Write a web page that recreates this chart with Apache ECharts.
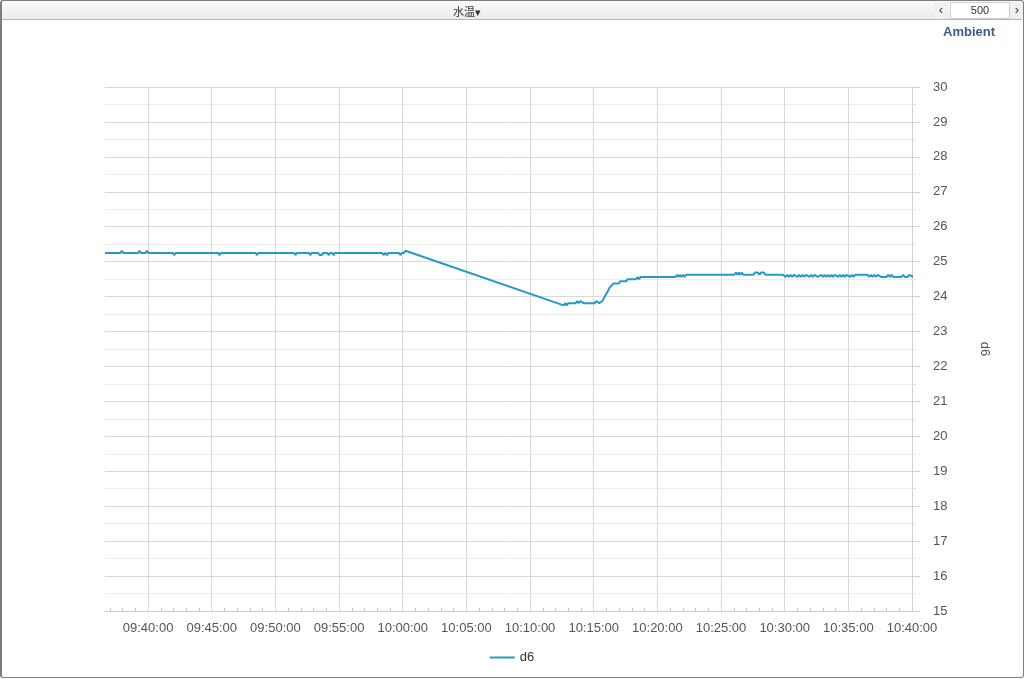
<!DOCTYPE html>
<html><head><meta charset="utf-8">
<script src="https://cdn.jsdelivr.net/npm/echarts@6/dist/echarts.min.js"></script>
<style>
html,body{margin:0;padding:0;width:1024px;height:679px;overflow:hidden;background:#fff;font-family:"Liberation Sans",Arial,sans-serif;}
#chart{position:absolute;left:0;top:0;width:1024px;height:679px;}
#frame{position:absolute;left:0;top:0;width:1021px;height:676px;border:1px solid #7d7d7d;border-left-width:2px;border-radius:3px;pointer-events:none;}
#bar{position:absolute;left:2px;top:1px;width:1020px;height:18px;background:linear-gradient(#fbfbfb,#ebebeb);border-bottom:1px solid #b8b8b8;font-size:12px;color:#333;}
#sel{position:absolute;left:451px;top:2px;font-family:"Noto Sans CJK SC",sans-serif;font-size:11px;}
#prev{position:absolute;left:932px;top:1px;width:14px;height:16px;text-align:center;font-size:13px;background:#f0f0f0;}
#box{position:absolute;left:948px;top:1px;width:58px;height:15px;background:#fff;border:1px solid #cfcfcf;text-align:center;font-size:11px;line-height:15px;}
#next{position:absolute;left:1008px;top:1px;width:14px;height:16px;text-align:center;font-size:13px;background:#f0f0f0;}
</style></head>
<body>
<div id="chart"></div>
<div id="bar"><span id="sel">水温▾</span><span id="prev">‹</span><div id="box">500</div><span id="next">›</span></div>
<div id="frame"></div>
<script>
const seriesName = 'd6';
const xMinTime = '09:36:37';
const xMaxTime = '10:40:00';
const yMin = 15, yMax = 30;
const times = [
'09:36:37','09:37:50','09:37:56','09:38:03','09:39:13','09:39:19','09:39:26','09:39:48','09:39:54','09:40:01',
'09:41:57','09:42:03','09:42:10','09:45:30','09:45:36','09:45:43','09:48:27','09:48:33','09:48:40',
'09:51:28','09:51:34','09:51:41','09:52:38','09:52:44','09:52:51','09:53:22','09:53:28','09:53:38','09:53:45',
'09:54:05','09:54:11','09:54:18','09:54:28','09:54:34','09:54:41','09:58:24','09:58:30','09:58:38','09:58:46','09:58:53',
'09:59:43','09:59:49','09:59:56','10:00:06','10:00:13',
'10:12:39','10:12:46','10:12:53','10:13:00','10:13:35','10:13:42','10:13:49','10:13:58','10:14:05','10:14:12',
'10:15:05','10:15:12','10:15:19','10:15:26','10:15:33','10:15:41','10:15:52','10:16:04','10:16:14','10:16:24',
'10:16:32','10:16:58','10:17:05','10:17:33','10:17:40','10:18:20','10:18:27','10:18:34','10:18:41',
'10:21:26','10:21:33','10:21:40','10:21:47','10:21:54','10:22:01','10:22:08','10:22:15',
'10:26:03','10:26:10','10:26:17','10:26:24','10:26:31','10:26:38','10:26:45',
'10:27:33','10:27:40','10:27:54','10:28:01','10:28:08','10:28:22','10:28:29','10:29:52',
'10:30:04','10:30:12','10:30:20','10:30:28','10:30:36','10:30:44','10:30:52','10:31:00','10:31:08','10:31:16',
'10:31:24','10:31:32','10:31:40','10:31:48','10:31:56','10:32:04','10:32:12','10:32:20','10:32:28','10:32:36',
'10:32:44','10:32:52','10:33:00','10:33:08','10:33:16','10:33:24','10:33:32','10:33:40','10:33:48','10:33:56',
'10:34:04','10:34:12','10:34:20','10:34:28','10:34:36','10:34:44','10:34:52','10:35:00','10:35:08','10:35:16',
'10:35:24','10:35:32','10:35:40','10:36:30','10:36:38','10:36:46','10:36:54','10:37:02','10:37:10','10:37:18',
'10:37:26','10:37:34','10:38:00','10:38:08','10:38:16','10:38:24','10:38:32','10:39:10','10:39:18','10:39:26',
'10:39:40','10:39:48','10:39:56','10:40:04','10:40:14','10:40:24'
];
const values = [
25.25,25.25,25.3125,25.25,25.25,25.3125,25.25,25.25,25.3125,25.25,
25.25,25.1875,25.25,25.25,25.1875,25.25,25.25,25.1875,25.25,
25.25,25.1875,25.25,25.25,25.1875,25.25,25.25,25.1875,25.1875,25.25,
25.25,25.1875,25.25,25.25,25.1875,25.25,25.25,25.1875,25.25,25.1875,25.25,
25.25,25.1875,25.25,25.25,25.3125,
23.75,23.8125,23.75,23.8125,23.8125,23.875,23.8125,23.875,23.875,23.8125,
23.8125,23.875,23.875,23.8125,23.8125,23.875,24.0,24.125,24.25,24.3125,
24.375,24.375,24.4375,24.4375,24.5,24.5,24.5625,24.5,24.5625,
24.5625,24.625,24.5625,24.625,24.5625,24.625,24.5625,24.625,
24.625,24.6875,24.625,24.6875,24.625,24.6875,24.625,
24.625,24.6875,24.6875,24.625,24.6875,24.6875,24.625,24.625,
24.5625,24.625,24.5625,24.625,24.5625,24.625,24.625,24.5625,24.625,24.5625,
24.625,24.5625,24.625,24.625,24.5625,24.625,24.5625,24.625,24.625,24.5625,
24.5625,24.625,24.5625,24.625,24.5625,24.625,24.5625,24.625,24.5625,24.625,
24.625,24.5625,24.625,24.5625,24.625,24.5625,24.625,24.625,24.5625,24.625,
24.5625,24.625,24.625,24.625,24.5625,24.625,24.5625,24.625,24.5625,24.625,
24.625,24.5625,24.5625,24.625,24.5625,24.625,24.5625,24.5625,24.625,24.5625,
24.5625,24.625,24.625,24.5625,24.5625,24.625
];

function toMin(s){const p=s.split(':').map(Number);return (p[0]-9)*60+p[1]+p[2]/60;}
function fmt(v){const t=Math.round(v*60);const h=9+Math.floor(t/3600);const m=Math.floor((t%3600)/60);const s=t%60;
  const pad=n=>(n<10?'0':'')+n;return pad(h)+':'+pad(m)+':'+pad(s);}

const data = times.map((t,i)=>[toMin(t), values[i]]);
const chart = echarts.init(document.getElementById('chart'), null, {renderer:'canvas'});
chart.setOption({
  animation:false,
  title:{text:'Ambient', right:24, top:21, textStyle:{fontFamily:'Liberation Sans', fontSize:13, fontWeight:'bold', color:'#3e5a8d'}},
  grid:{left:105, right:112, top:87, bottom:68},
  legend:{bottom:10, left:'center', itemWidth:25, itemHeight:12, itemGap:10, icon:'path://M0,5L25,5L25,7L0,7Z',
    textStyle:{fontFamily:'Liberation Sans', fontSize:13, color:'#333'}, data:[seriesName]},
  xAxis:{type:'value', min:toMin(xMinTime), max:toMin(xMaxTime), splitNumber:12, minInterval:5, maxInterval:5,
    axisLine:{show:true, lineStyle:{color:'#cccccc'}},
    axisTick:{show:false, inside:true},
    minorTick:{show:true, splitNumber:5, length:3, lineStyle:{color:'#c4c4c4'}},
    splitLine:{show:true, showMinLine:false, lineStyle:{color:'#d9d9d9'}},
    axisLabel:{showMinLabel:false, margin:11, fontFamily:'Liberation Sans', fontSize:13, color:'#555',
      formatter:v=>{const r=v/5; return Math.abs(r-Math.round(r))<1e-6 ? fmt(v) : '';}}},
  yAxis:{type:'value', position:'right', min:yMin, max:yMax, interval:1,
    name:seriesName, nameLocation:'middle', nameGap:66, nameRotate:-90,
    nameTextStyle:{fontFamily:'Liberation Sans', fontSize:13, color:'#555'},
    axisLine:{show:true, lineStyle:{color:'#d0d0d0'}},
    axisTick:{show:true, length:8, lineStyle:{color:'#d0d0d0'}},
    minorTick:{show:true, splitNumber:2, length:4, lineStyle:{color:'#e0e0e0'}},
    splitLine:{show:true, lineStyle:{color:'#d9d9d9'}},
    minorSplitLine:{show:true, lineStyle:{color:'#ededed'}},
    axisLabel:{margin:21, fontFamily:'Liberation Sans', fontSize:13, color:'#555'}},
  series:[{name:seriesName, type:'line', data:data, showSymbol:false, symbol:'none', clip:false,
    lineStyle:{width:2, color:'#2799c6'}, itemStyle:{color:'#2799c6'}}]
});
</script>
</body></html>
